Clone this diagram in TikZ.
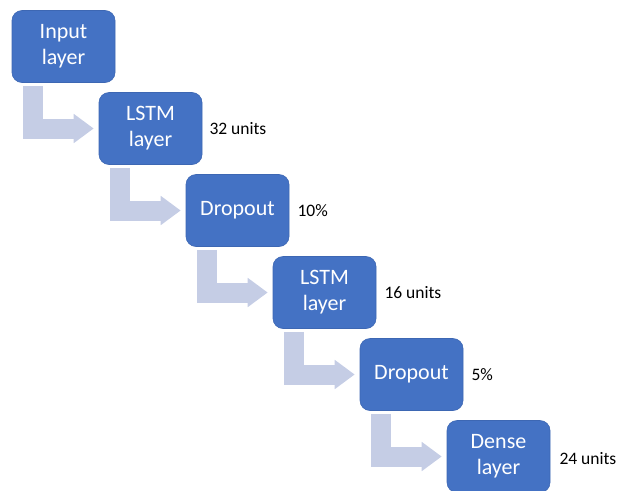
\documentclass[tikz,border=0pt]{standalone}
\usepackage{fontspec}
\setmainfont{Carlito}
\usetikzlibrary{positioning,arrows.meta}

\definecolor{boxblue}{HTML}{4472C4}
\definecolor{boxedge}{HTML}{3D67B3}
\definecolor{flowblue}{HTML}{C5CDE5}

\tikzset{
  layer/.style={rectangle, rounded corners=10pt, fill=boxblue, draw=boxedge, line width=0.6pt,
    minimum width=103pt, minimum height=72pt, align=center, text=white,
    font=\fontsize{22}{26}\selectfont},
  note/.style={anchor=west, inner sep=0pt, font=\fontsize{17.5}{20}\selectfont},
  flow/.style={draw=flowblue, line width=20pt, line join=miter,
    -{Triangle[width=28pt,length=20pt]}}
}

\begin{document}
\begin{tikzpicture}[node distance=82pt and 87pt,on grid]
   \useasboundingbox (0,0) rectangle (617pt,-490pt);
   \node[layer] (input) at (63.5pt,-46.5pt) {Input\\layer};
   \node[layer] (lstm1) [below right=of input] {LSTM\\layer};
   \node[layer] (drop1) [below right=of lstm1] {Dropout};
   \node[layer] (lstm2) [below right=of drop1] {LSTM\\layer};
   \node[layer] (drop2) [below right=of lstm2] {Dropout};
   \node[layer] (dense) [below right=of drop2] {Dense\\layer};

   \node[note] (n1) at ([xshift=7pt]lstm1.east) {32 units};
   \node[note] (n2) at ([xshift=8pt]drop1.east) {10\%};
   \node[note] (n3) at ([xshift=8pt]lstm2.east) {16 units};
   \node[note] (n4) at ([xshift=8pt]drop2.east) {5\%};
   \node[note] (n5) at ([xshift=9pt,yshift=-2pt]dense.east) {24 units};

   % bent arrows between the layers
   \path[flow] ([xshift=21pt,yshift=-3pt]input.south west) |- ([xshift=-5pt]lstm1.west);
   \path[flow] ([xshift=21pt,yshift=-3pt]lstm1.south west) |- ([xshift=-5pt]drop1.west);
   \path[flow] ([xshift=21pt,yshift=-3pt]drop1.south west) |- ([xshift=-5pt]lstm2.west);
   \path[flow] ([xshift=21pt,yshift=-3pt]lstm2.south west) |- ([xshift=-5pt]drop2.west);
   \path[flow] ([xshift=21pt,yshift=-3pt]drop2.south west) |- ([xshift=-5pt]dense.west);
\end{tikzpicture}
\end{document}
